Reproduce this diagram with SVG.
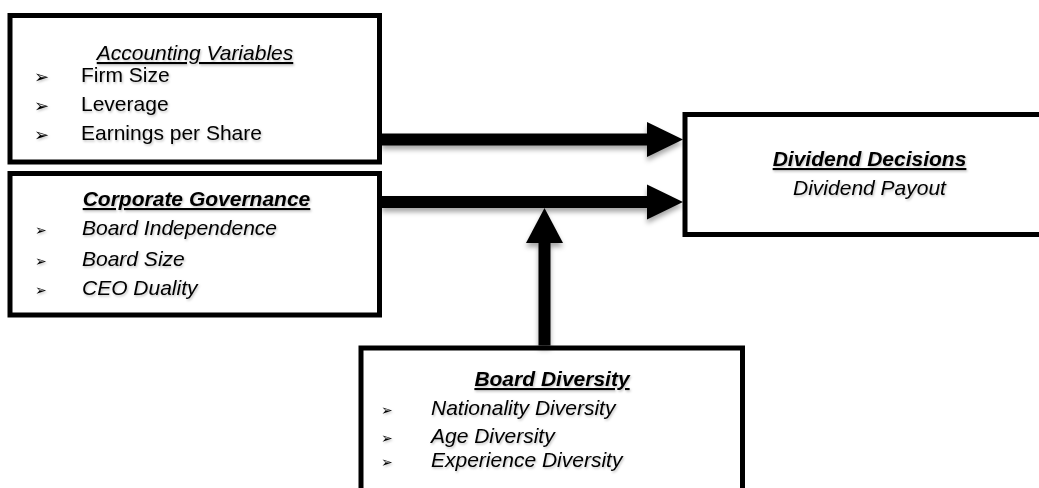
<svg xmlns="http://www.w3.org/2000/svg" width="1039" height="488" viewBox="0 0 1039 488">
<style>
.box{fill:#fff;stroke:#000;stroke-width:5;}
.t{font-family:"Liberation Sans",Arial,sans-serif;font-size:21px;fill:#000;}
.title{text-anchor:middle;font-style:italic;text-decoration:underline;}
.b{font-weight:bold;}
.i{font-style:italic;}
.bul{font-family:"DejaVu Sans",sans-serif;fill:#000;}
.shaft{stroke:#000;stroke-width:12;fill:none;}
.head{fill:#000;}
</style>
<defs>
<filter id="sh" x="-20%" y="-50%" width="140%" height="200%">
<feDropShadow dx="0" dy="4" stdDeviation="2.5" flood-color="#000" flood-opacity="0.35"/>
</filter>
<filter id="tsh" x="-5%" y="-20%" width="110%" height="150%">
<feDropShadow dx="1" dy="1.5" stdDeviation="0.8" flood-color="#000" flood-opacity="0.25"/>
</filter>
</defs>

<g id="node-accounting">
<rect class="box" x="10" y="15.5" width="369.5" height="146.5"/>
<g filter="url(#tsh)">
<text class="t title" x="195" y="60">Accounting Variables</text>
<text class="bul" x="34" y="83" font-size="18">➢</text>
<text class="t" x="81" y="82">Firm Size</text>
<text class="bul" x="34" y="112" font-size="18">➢</text>
<text class="t" x="81" y="111">Leverage</text>
<text class="bul" x="34" y="141" font-size="18">➢</text>
<text class="t" x="81" y="140">Earnings per Share</text>
</g>
</g>

<g id="node-governance">
<rect class="box" x="10" y="173.5" width="369.5" height="141.5"/>
<g filter="url(#tsh)">
<text class="t title b" x="196.5" y="206">Corporate Governance</text>
<text class="bul" x="35" y="235" font-size="14">➢</text>
<text class="t i" x="82" y="235">Board Independence</text>
<text class="bul" x="35" y="266" font-size="14">➢</text>
<text class="t i" x="82" y="266">Board Size</text>
<text class="bul" x="35" y="295" font-size="14">➢</text>
<text class="t i" x="82" y="295">CEO Duality</text>
</g>
</g>

<g id="node-dividend">
<rect class="box" x="685" y="114.5" width="380" height="120"/>
<g filter="url(#tsh)">
<text class="t title b" x="869.5" y="166">Dividend Decisions</text>
<text class="t i" x="869.5" y="195" text-anchor="middle">Dividend Payout</text>
</g>
</g>

<g id="node-diversity">
<rect class="box" x="361" y="348" width="381.5" height="160"/>
<g filter="url(#tsh)">
<text class="t title b" x="552" y="386">Board Diversity</text>
<text class="bul" x="381" y="415" font-size="14">➢</text>
<text class="t i" x="431" y="415">Nationality Diversity</text>
<text class="bul" x="381" y="443" font-size="14">➢</text>
<text class="t i" x="431" y="443">Age Diversity</text>
<text class="bul" x="381" y="467" font-size="14">➢</text>
<text class="t i" x="431" y="467">Experience Diversity</text>
</g>
</g>

<g id="connectors" filter="url(#sh)">
<line class="shaft" x1="382" y1="139.5" x2="648" y2="139.5"/>
<polygon class="head" points="647,122 683,139.5 647,157"/>
<line class="shaft" x1="382" y1="202" x2="648" y2="202"/>
<polygon class="head" points="647,184.5 683,202 647,219.5"/>
<line class="shaft" x1="544.5" y1="345.5" x2="544.5" y2="242"/>
<polygon class="head" points="526,243 544.5,208 563,243"/>
</g>
</svg>
